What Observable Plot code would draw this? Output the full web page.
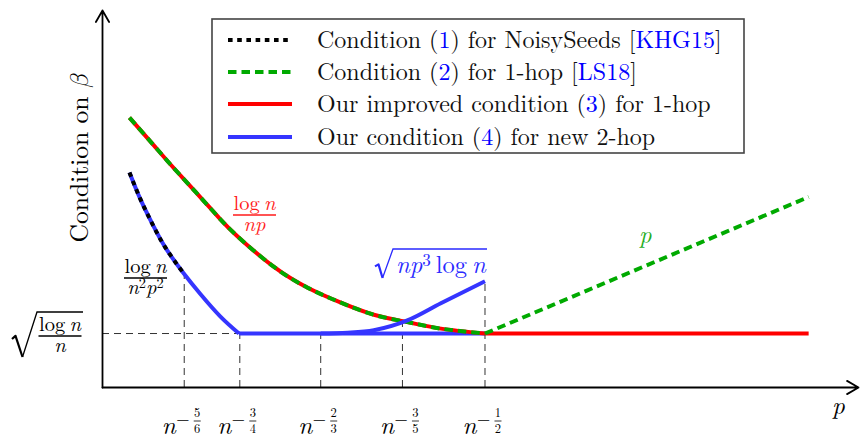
<!DOCTYPE html>
<html><head><meta charset="utf-8">
<script src="https://cdn.jsdelivr.net/npm/d3@7"></script>
<script src="https://cdn.jsdelivr.net/npm/@observablehq/plot@0.6"></script>
<style>
body{margin:0;background:#fff;}
#chart{width:860px;height:440px;}
</style></head><body><div id="chart"></div>
<script>
// ---- data (schematic units) ----
const tickPos = [1.00, 1.68, 2.67, 3.67, 4.68];      // n^-5/6, n^-3/4, n^-2/3, n^-3/5, n^-1/2
const tickNum = ["5", "3", "2", "3", "1"];
const tickDen = ["6", "4", "3", "5", "2"];
const guideTop = [1.40, 0.66, 0.66, 0.82, 1.30];
const sqrtLevel = 0.66;                              // sqrt(log n / n)

// Condition (2)/(3): log n / (n p)
const oneHopX = [0.33, 0.62, 0.83, 1.04, 1.24, 1.44, 1.65, 2.09, 2.51, 2.91, 3.32, 3.73, 4.14, 4.68];
const oneHopY = [3.30, 2.97, 2.73, 2.50, 2.28, 2.06, 1.85, 1.48, 1.22, 1.04, 0.89, 0.80, 0.72, 0.66];
// Condition (1): log n / (n^2 p^2) -- dotted part
const noisyX = [0.33, 0.465, 0.61, 0.77, 0.99];
const noisyY = [2.63, 2.30, 2.00, 1.71, 1.40];
// Condition (4) new 2-hop: descending branch, flat part, rising sqrt(n p^3 log n)
const twoHopLeftX = [0.33, 0.465, 0.61, 0.77, 0.99, 1.20, 1.44, 1.67];
const twoHopLeftY = [2.63, 2.30, 2.00, 1.71, 1.40, 1.14, 0.87, 0.66];
const twoHopFlatX = [1.67, 4.68];
const twoHopFlatY = [0.66, 0.66];
const twoHopRiseX = [2.67, 3.00, 3.32, 3.73, 4.14, 4.68];
const twoHopRiseY = [0.66, 0.67, 0.70, 0.82, 1.03, 1.30];
// beyond n^-1/2
const improvedFlatX = [4.68, 8.64];
const improvedFlatY = [0.66, 0.66];
const ls18RightX = [4.68, 8.64];
const ls18RightY = [0.66, 2.33];

const toRows = (xs, ys) => xs.map((x, i) => ({x, y: ys[i]}));

const FONT = "'Latin Modern Roman', 'DejaVu Serif', serif";
const MATHFONT = "'Latin Modern Math', 'Latin Modern Roman', 'DejaVu Serif', 'DejaVu Sans', serif";
const RED = "#ff0000", GREEN = "#00aa00", BLUE = "#3535ff", BLACK = "#000";
const W = 4;
const DASH = "8.5,5";

const plot = Plot.plot({
  width: 860, height: 440,
  marginLeft: 102, marginRight: 2, marginTop: 10, marginBottom: 53,
  x: {domain: [0, 9.25], axis: null},
  y: {domain: [0, 4.61], axis: null},
  style: {background: "#fff", fontFamily: FONT},
  marks: [
    Plot.ruleY([sqrtLevel], {x1: 0, x2: tickPos[4], stroke: "#333", strokeWidth: 1, strokeDasharray: "7,5"}),
    Plot.ruleX(tickPos, {x: d => d, y1: 0, y2: (d, i) => guideTop[i], stroke: "#333", strokeWidth: 1, strokeDasharray: "7,5"}),
    Plot.line(toRows(twoHopLeftX, twoHopLeftY), {x: "x", y: "y", stroke: BLUE, strokeWidth: W, curve: "natural", strokeLinecap: "butt"}),
    Plot.line(toRows(twoHopFlatX, twoHopFlatY), {x: "x", y: "y", stroke: BLUE, strokeWidth: W, strokeLinecap: "butt"}),
    Plot.line(toRows(improvedFlatX, improvedFlatY), {x: "x", y: "y", stroke: RED, strokeWidth: W, strokeLinecap: "butt"}),
    Plot.line(toRows(oneHopX, oneHopY), {x: "x", y: "y", stroke: RED, strokeWidth: W, curve: "natural", strokeLinecap: "butt"}),
    Plot.line(toRows(oneHopX, oneHopY), {x: "x", y: "y", stroke: GREEN, strokeWidth: W, curve: "natural", strokeLinecap: "butt", strokeDasharray: DASH}),
    Plot.line(toRows(ls18RightX, ls18RightY), {x: "x", y: "y", stroke: GREEN, strokeWidth: W, strokeLinecap: "butt", strokeDasharray: DASH}),
    Plot.line(toRows(twoHopRiseX, twoHopRiseY), {x: "x", y: "y", stroke: BLUE, strokeWidth: W, curve: "monotone-x", strokeLinecap: "butt"}),
    Plot.line(toRows(noisyX, noisyY), {x: "x", y: "y", stroke: BLACK, strokeWidth: W, curve: "natural", strokeLinecap: "butt", strokeDasharray: "4.5,4.5"}),
    Plot.arrow([0], {x1: 0, y1: 0, x2: 9.25, y2: 0, stroke: BLACK, strokeWidth: 1.8, headLength: 11, headAngle: 60}),
    Plot.arrow([0], {x1: 0, y1: 0, x2: 0, y2: 4.61, stroke: BLACK, strokeWidth: 1.8, headLength: 11, headAngle: 60})
  ]
});
document.getElementById("chart").appendChild(plot);

// ---- annotations (math-like labels, legend) ----
const xs = plot.scale("x");
const svg = d3.select(plot);
const ann = svg.append("g").attr("font-family", FONT);

function txt(g, x, y, parts, size, color, anchor = "middle") {
  const t = g.append("text").attr("x", x).attr("y", y)
    .attr("font-family", FONT).attr("font-size", size)
    .attr("fill", color).attr("text-anchor", anchor);
  let shift = 0;
  for (const p of parts) {
    const s = t.append("tspan").text(p.t);
    if (p.i) s.attr("font-style", "italic");
    if (p.f) s.attr("font-family", p.f);
    if (p.c) s.attr("fill", p.c);
    let target = 0;
    if (p.sup) { s.attr("font-size", size * 0.7); target = -size * 0.28; }
    if (target !== shift) { s.attr("dy", target - shift); shift = target; }
  }
  return t;
}
const logn = [{t: "log\u2009"}, {t: "n", i: true}];
function frac(cx, barY, num, den, size, color, barW) {
  txt(ann, cx, barY - 5, num, size, color);
  txt(ann, cx, barY + 16, den, size, color);
  ann.append("line").attr("x1", cx - barW / 2).attr("x2", cx + barW / 2)
    .attr("y1", barY).attr("y2", barY).attr("stroke", color).attr("stroke-width", 1.3);
}
function radical(x0, yTop, yBot, xBar, xEnd, color) {
  const h = yBot - yTop;
  const xLow = x0 + (xBar - x0) * 0.42;
  ann.append("path")
    .attr("d", `M${x0},${yBot - h * 0.40} L${x0 + 3.5},${yBot - h * 0.47} L${xLow},${yBot}`)
    .attr("fill", "none").attr("stroke", color).attr("stroke-width", 2.2).attr("stroke-linejoin", "round");
  ann.append("path")
    .attr("d", `M${xLow},${yBot} L${xBar},${yTop} L${xEnd},${yTop}`)
    .attr("fill", "none").attr("stroke", color).attr("stroke-width", 1.3).attr("stroke-linejoin", "miter");
}

// tick labels n^{-a/b}
tickPos.forEach((t, i) => {
  const X = xs.apply(t);
  txt(ann, X - 22, 434, [{t: "n", i: true}], 25, BLACK, "start");
  txt(ann, X - 7.5, 425, [{t: "−"}], 17, BLACK, "start");
  txt(ann, X + 13.5, 417, [{t: tickNum[i]}], 12.5, BLACK);
  txt(ann, X + 13.5, 432.5, [{t: tickDen[i]}], 12.5, BLACK);
  ann.append("line").attr("x1", X + 10).attr("x2", X + 17).attr("y1", 421).attr("y2", 421)
    .attr("stroke", BLACK).attr("stroke-width", 0.8);
});
// axis label p
txt(ann, 832, 414, [{t: "p", i: true}], 25, BLACK, "start");
// y axis title
ann.append("g").attr("transform", "translate(88,158) rotate(-90)")
  .call(g => txt(g, 0, 0, [{t: "Condition on "}, {t: "\u{1D6FD}", f: MATHFONT}], 25.5, BLACK));

// sqrt(log n / n) on the left
radical(12, 312, 357, 37, 83, BLACK);
frac(60, 336, logn, [{t: "n", i: true}], 20.5, BLACK, 43);
// log n / (n^2 p^2)
frac(145.5, 278, logn, [{t: "n", i: true}, {t: "2", sup: true}, {t: "p", i: true}, {t: "2", sup: true}], 20.5, BLACK, 43);
// log n / (n p) in red
frac(254.5, 215, logn, [{t: "np", i: true}], 20.5, "#ff1a1a", 43);
// sqrt(n p^3 log n) in blue
radical(375, 249, 278, 393, 487, "#2a2aff");
txt(ann, 396, 273, [{t: "np", i: true}, {t: "3", sup: true}, {t: "\u2009log\u2009"}, {t: "n", i: true}], 24.5, "#2a2aff", "start");
// p in green
txt(ann, 639, 243, [{t: "p", i: true}], 24.5, "#1fae1f", "start");

// legend
const leg = ann.append("g");
leg.append("rect").attr("x", 212).attr("y", 19).attr("width", 532).attr("height", 134)
  .attr("fill", "#fff").attr("stroke", "#444").attr("stroke-width", 1.6);
const legRows = [
  {y: 40, stroke: BLACK, dash: "4.6,4.6", parts: [{t: "Condition ("}, {t: "1", c: "#0000ff"}, {t: ") for NoisySeeds ["}, {t: "KHG15", c: "#0000ff"}, {t: "]"}]},
  {y: 72, stroke: GREEN, dash: DASH, parts: [{t: "Condition ("}, {t: "2", c: "#0000ff"}, {t: ") for 1-hop ["}, {t: "LS18", c: "#0000ff"}, {t: "]"}]},
  {y: 104, stroke: RED, dash: null, parts: [{t: "Our improved condition ("}, {t: "3", c: "#0000ff"}, {t: ") for 1-hop"}]},
  {y: 137, stroke: BLUE, dash: null, parts: [{t: "Our condition ("}, {t: "4", c: "#0000ff"}, {t: ") for new 2-hop"}]}
];
legRows.forEach(r => {
  const l = leg.append("line").attr("x1", 228).attr("x2", 292).attr("y1", r.y).attr("y2", r.y)
    .attr("stroke", r.stroke).attr("stroke-width", W);
  if (r.dash) l.attr("stroke-dasharray", r.dash);
  txt(leg, 317, r.y + 8, r.parts, 24, "#111", "start");
});
</script></body></html>
